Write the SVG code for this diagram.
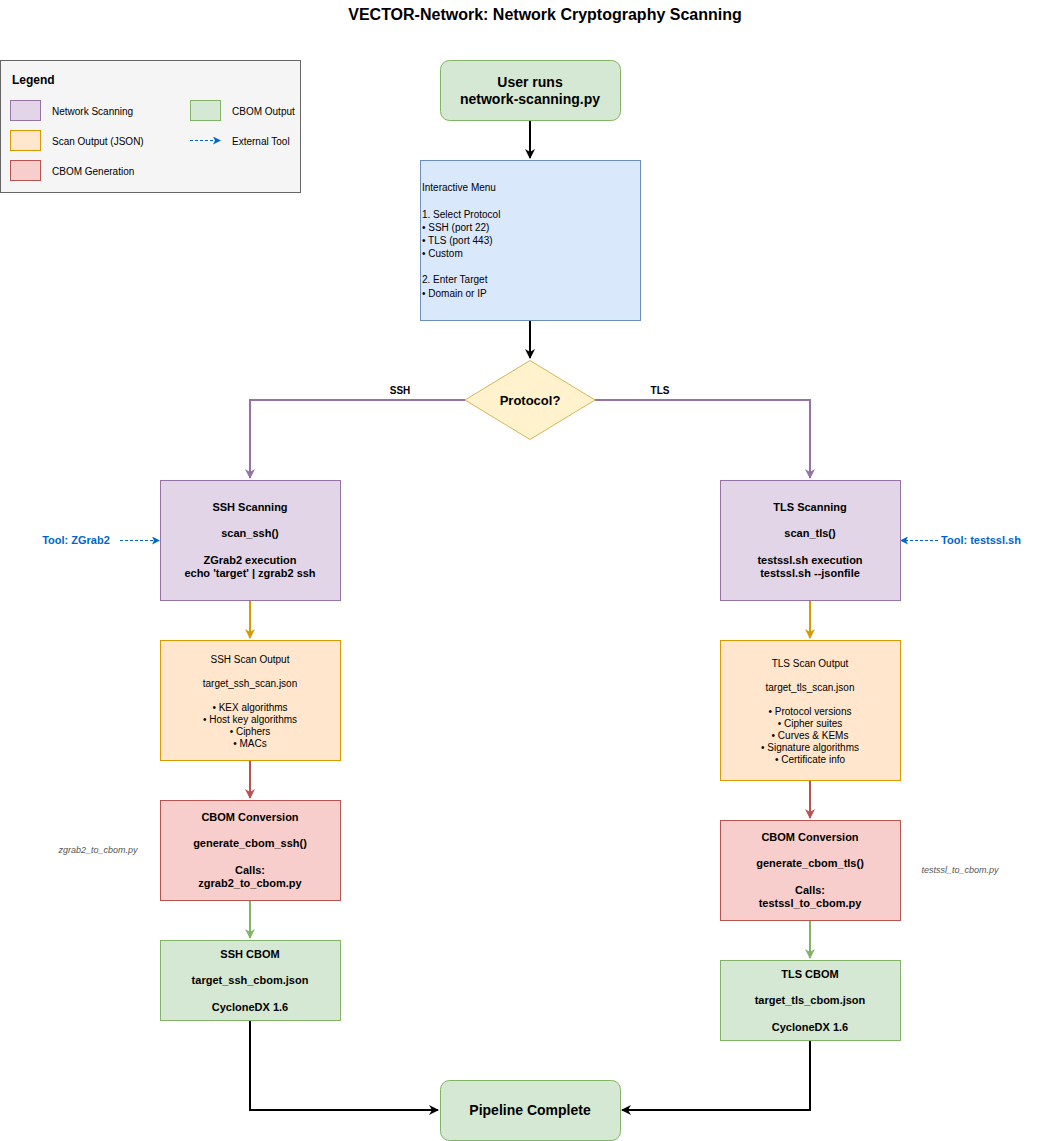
<svg xmlns="http://www.w3.org/2000/svg" width="1041" height="1141" viewBox="0 0 1041 1141">
<style>
text{font-family:"Liberation Sans",Arial,sans-serif;fill:#000}
.b{font-weight:bold}
.c{text-anchor:middle}
.s11{font-size:11px}.s10{font-size:10px}
.tool{fill:#0066cc;font-weight:bold;font-size:11px}
.note{fill:#555;font-style:italic;font-size:9px;text-anchor:middle}
.pu{fill:#e1d5e7;stroke:#9673a6}.or{fill:#ffe6cc;stroke:#d79b00}.rd{fill:#f8cecc;stroke:#b85450}.gr{fill:#d5e8d4;stroke:#82b366}
</style>
<defs>
<marker id="ak" markerWidth="10" markerHeight="10" refX="9" refY="5" orient="auto" markerUnits="userSpaceOnUse"><path d="M0,0L10,5L0,10L3,5z" fill="#000"/></marker>
<marker id="ap" markerWidth="10" markerHeight="10" refX="9" refY="5" orient="auto" markerUnits="userSpaceOnUse"><path d="M0,0L10,5L0,10L3,5z" fill="#9673a6"/></marker>
<marker id="ao" markerWidth="10" markerHeight="10" refX="9" refY="5" orient="auto" markerUnits="userSpaceOnUse"><path d="M0,0L10,5L0,10L3,5z" fill="#d79b00"/></marker>
<marker id="ar" markerWidth="10" markerHeight="10" refX="9" refY="5" orient="auto" markerUnits="userSpaceOnUse"><path d="M0,0L10,5L0,10L3,5z" fill="#b85450"/></marker>
<marker id="ag" markerWidth="10" markerHeight="10" refX="9" refY="5" orient="auto" markerUnits="userSpaceOnUse"><path d="M0,0L10,5L0,10L3,5z" fill="#82b366"/></marker>
<marker id="ab" markerWidth="8" markerHeight="8" refX="7" refY="4" orient="auto" markerUnits="userSpaceOnUse"><path d="M0,0L8,4L0,8L2,4z" fill="#0066cc"/></marker>
</defs>
<rect width="1041" height="1141" fill="#fff"/>
<text x="545" y="20" class="b c" font-size="16">VECTOR-Network: Network Cryptography Scanning</text>

<g id="legend">
<rect x="0.5" y="60.5" width="300" height="132" fill="#f5f5f5" stroke="#666"/>
<text x="12" y="84" class="b" font-size="12">Legend</text>
<rect x="10.5" y="100.5" width="30" height="20" class="pu"/><text x="52" y="115" class="s10">Network Scanning</text>
<rect x="10.5" y="130.5" width="30" height="20" class="or"/><text x="52" y="145" class="s10">Scan Output (JSON)</text>
<rect x="10.5" y="160.5" width="30" height="20" class="rd"/><text x="52" y="175" class="s10">CBOM Generation</text>
<rect x="190.5" y="100.5" width="30" height="20" class="gr"/><text x="232" y="115" class="s10">CBOM Output</text>
<line x1="190" y1="140.5" x2="220" y2="140.5" stroke="#0066cc" stroke-dasharray="3,2" marker-end="url(#ab)"/><text x="232" y="145" class="s10">External Tool</text>
</g>

<g id="connectors" fill="none" stroke-width="2">
<path d="M530,120V158" stroke="#000" marker-end="url(#ak)"/>
<path d="M530,320V358" stroke="#000" marker-end="url(#ak)"/>
<path d="M465,400H250V478" stroke="#9673a6" marker-end="url(#ap)"/>
<path d="M595,400H810V478" stroke="#9673a6" marker-end="url(#ap)"/>
<path d="M250,600V638" stroke="#d79b00" marker-end="url(#ao)"/>
<path d="M810,600V638" stroke="#d79b00" marker-end="url(#ao)"/>
<path d="M250,760V798" stroke="#b85450" marker-end="url(#ar)"/>
<path d="M810,780V818" stroke="#b85450" marker-end="url(#ar)"/>
<path d="M250,900V938" stroke="#82b366" marker-end="url(#ag)"/>
<path d="M810,920V958" stroke="#82b366" marker-end="url(#ag)"/>
<path d="M250,1020V1110H438" stroke="#000" marker-end="url(#ak)"/>
<path d="M810,1040V1110H622" stroke="#000" marker-end="url(#ak)"/>
<path d="M120,540.5H159" stroke="#0066cc" stroke-width="1" stroke-dasharray="3,2" marker-end="url(#ab)"/>
<path d="M938,540.5H901" stroke="#0066cc" stroke-width="1" stroke-dasharray="3,2" marker-end="url(#ab)"/>
</g>
<text x="400" y="394" class="b c" font-size="10">SSH</text>
<text x="660" y="394" class="b c" font-size="10">TLS</text>
<text x="76" y="544" class="tool c">Tool: ZGrab2</text>
<text x="981" y="544" class="tool c">Tool: testssl.sh</text>
<text x="98" y="853" class="note">zgrab2_to_cbom.py</text>
<text x="960" y="873" class="note">testssl_to_cbom.py</text>

<g id="start"><rect x="440.5" y="60.5" width="180" height="60" rx="9" class="gr"/>
<text x="530" y="87" class="b c" font-size="14">User runs</text><text x="530" y="104" class="b c" font-size="14">network-scanning.py</text></g>

<g id="menu"><rect x="420.5" y="160.5" width="220" height="160" fill="#dae8fc" stroke="#6c8ebf"/>
<g class="s10" font-size="10.5"><text x="422" y="191">Interactive Menu</text><text x="422" y="218">1. Select Protocol</text><text x="422" y="231">• SSH (port 22)</text><text x="422" y="244">• TLS (port 443)</text><text x="422" y="257">• Custom</text><text x="422" y="283">2. Enter Target</text><text x="422" y="297">• Domain or IP</text></g></g>

<g id="decision"><path d="M530,360.5L595,400L530,439.5L465,400Z" fill="#fff2cc" stroke="#d6b656"/>
<text x="530" y="405" class="b c" font-size="13">Protocol?</text></g>

<g id="ssh-scan"><rect x="160.5" y="480.5" width="180" height="120" class="pu"/>
<g class="b c s11"><text x="250" y="511">SSH Scanning</text><text x="250" y="537">scan_ssh()</text><text x="250" y="564">ZGrab2 execution</text><text x="250" y="577">echo 'target' | zgrab2 ssh</text></g></g>

<g id="tls-scan"><rect x="720.5" y="480.5" width="180" height="120" class="pu"/>
<g class="b c s11"><text x="810" y="511">TLS Scanning</text><text x="810" y="537">scan_tls()</text><text x="810" y="564">testssl.sh execution</text><text x="810" y="577">testssl.sh --jsonfile</text></g></g>

<g id="ssh-out"><rect x="160.5" y="640.5" width="180" height="120" class="or"/>
<g class="c s10"><text x="250" y="663">SSH Scan Output</text><text x="250" y="687">target_ssh_scan.json</text><text x="250" y="711">• KEX algorithms</text><text x="250" y="723">• Host key algorithms</text><text x="250" y="735">• Ciphers</text><text x="250" y="747">• MACs</text></g></g>

<g id="tls-out"><rect x="720.5" y="640.5" width="180" height="140" class="or"/>
<g class="c s10"><text x="810" y="667">TLS Scan Output</text><text x="810" y="691">target_tls_scan.json</text><text x="810" y="715">• Protocol versions</text><text x="810" y="727">• Cipher suites</text><text x="810" y="739">• Curves &amp; KEMs</text><text x="810" y="751">• Signature algorithms</text><text x="810" y="763">• Certificate info</text></g></g>

<g id="ssh-conv"><rect x="160.5" y="800.5" width="180" height="100" class="rd"/>
<g class="b c s11"><text x="250" y="821">CBOM Conversion</text><text x="250" y="847">generate_cbom_ssh()</text><text x="250" y="874">Calls:</text><text x="250" y="887">zgrab2_to_cbom.py</text></g></g>

<g id="tls-conv"><rect x="720.5" y="820.5" width="180" height="100" class="rd"/>
<g class="b c s11"><text x="810" y="841">CBOM Conversion</text><text x="810" y="867">generate_cbom_tls()</text><text x="810" y="894">Calls:</text><text x="810" y="907">testssl_to_cbom.py</text></g></g>

<g id="ssh-cbom"><rect x="160.5" y="940.5" width="180" height="80" class="gr"/>
<g class="b c s11"><text x="250" y="958">SSH CBOM</text><text x="250" y="984">target_ssh_cbom.json</text><text x="250" y="1011">CycloneDX 1.6</text></g></g>

<g id="tls-cbom"><rect x="720.5" y="960.5" width="180" height="80" class="gr"/>
<g class="b c s11"><text x="810" y="978">TLS CBOM</text><text x="810" y="1004">target_tls_cbom.json</text><text x="810" y="1031">CycloneDX 1.6</text></g></g>

<g id="end"><rect x="440.5" y="1080.5" width="180" height="60" rx="9" class="gr"/>
<text x="530" y="1115" class="b c" font-size="14">Pipeline Complete</text></g>
</svg>
